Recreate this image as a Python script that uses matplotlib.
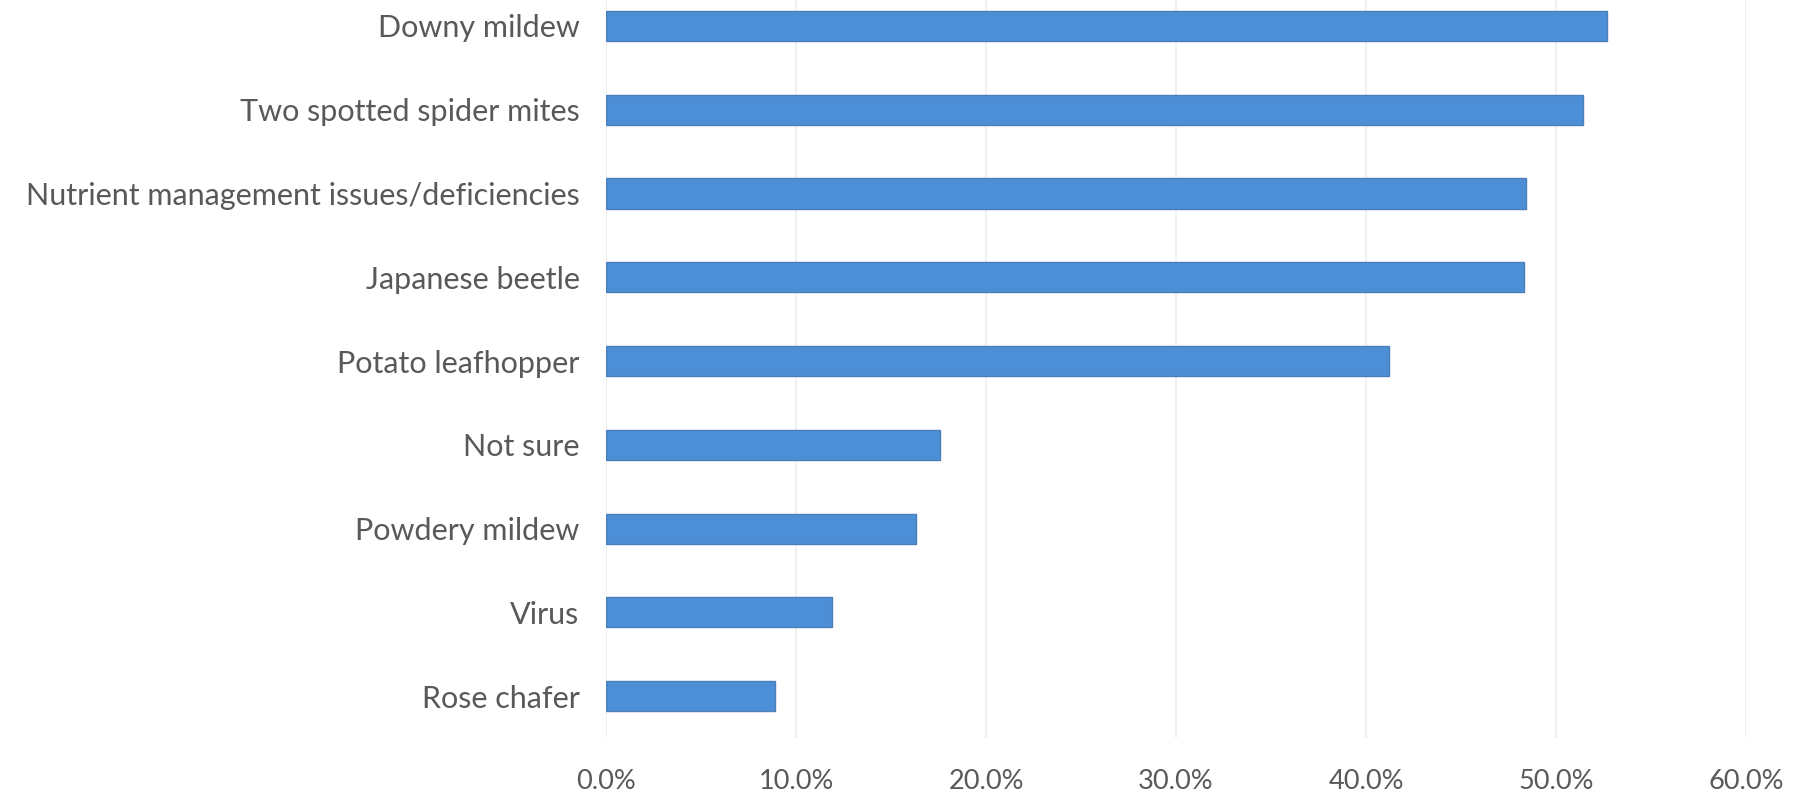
import matplotlib
matplotlib.use("Agg")
import matplotlib.pyplot as plt
from matplotlib.ticker import FuncFormatter

categories = [
    "Downy mildew",
    "Two spotted spider mites",
    "Nutrient management issues/deficiencies",
    "Japanese beetle",
    "Potato leafhopper",
    "Not sure",
    "Powdery mildew",
    "Virus",
    "Rose chafer",
]
values = [52.7, 51.4, 48.4, 48.3, 41.2, 17.6, 16.3, 11.9, 8.9]
x_ticks = [0, 10, 20, 30, 40, 50, 60]

plt.rcParams['font.family'] = ['Lato', 'DejaVu Sans']

fig = plt.figure(figsize=(18.04, 7.93), dpi=100)
ax = fig.add_axes([606/1804, 1 - 738/793, (1746 - 606)/1804, 738/793])

ypos = list(range(len(categories)))
ax.barh(ypos, values, height=0.36, color='#4d8fd6', edgecolor='#4a7fb8', linewidth=1.0, zorder=3)

ax.set_xlim(0, 60)
ax.set_ylim(8.5, -0.31)
ax.set_xticks(x_ticks)
ax.xaxis.set_major_formatter(FuncFormatter(lambda v, p: f"{v:.1f}%"))
ax.set_yticks(ypos)
ax.set_yticklabels(categories)

for s in ax.spines.values():
    s.set_visible(False)
ax.grid(axis='x', color='#efefef', linewidth=1.2, zorder=0)
ax.tick_params(axis='both', length=0, labelcolor='#595959')
ax.tick_params(axis='y', pad=19, labelsize=22)
ax.tick_params(axis='x', pad=22, labelsize=19.5)

fig.savefig("out.png", dpi=100, facecolor='white')
